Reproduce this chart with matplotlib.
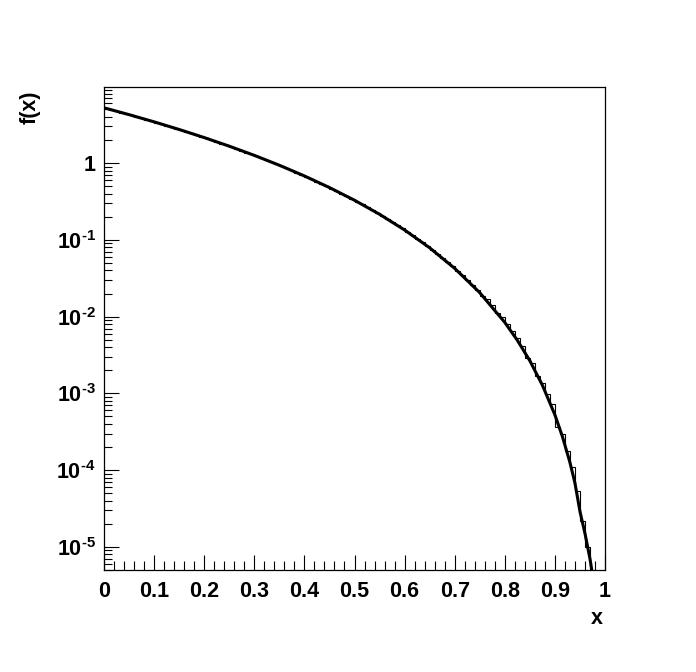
#!/usr/bin/env python

import matplotlib
matplotlib.use("Agg")
import matplotlib.pyplot as plt
import numpy as np
from matplotlib.ticker import FixedLocator, FuncFormatter, LogLocator, MultipleLocator

# histogram contents, 100 bins of width 0.01 on [0, 1]
hist_values = [
    5.146, 4.942, 4.744, 4.553, 4.367, 4.187, 4.012, 3.843, 3.680, 3.522,
    3.369, 3.221, 3.077, 2.939, 2.806, 2.677, 2.552, 2.432, 2.316, 2.205,
    2.097, 1.994, 1.894, 1.798, 1.706, 1.617, 1.532, 1.450, 1.372, 1.297,
    1.225, 1.156, 1.090, 1.027, 0.966, 0.909, 0.854, 0.801, 0.751, 0.703,
    0.658, 0.615, 0.574, 0.535, 0.498, 0.463, 0.430, 0.399, 0.369, 0.341,
    0.315, 0.290, 0.267, 0.245, 0.225, 0.206, 0.188, 0.171, 0.156, 0.141,
    0.128, 0.115, 0.104, 0.0932, 0.0834, 0.0744, 0.0661, 0.0586, 0.0517, 0.0454,
    0.0398, 0.0346, 0.0300, 0.0259, 0.0222, 0.0187, 0.0168, 0.0142, 0.0110, 0.0099,
    0.0080, 0.0065, 0.0052, 0.0042, 0.0029, 0.0025, 0.00168, 0.00138, 0.00099, 0.00072,
    0.00037, 0.000300, 0.000175, 0.000110, 5.3e-5, 2.2e-5, 1.0e-5, 0.0, 0.0, 0.0,
]
hist_lo = 0.0
hist_hi = 1.0

func_x = [0.0, 0.05, 0.1, 0.15, 0.2, 0.25, 0.3, 0.35, 0.4, 0.45, 0.5, 0.55, 0.6,
          0.65, 0.7, 0.75, 0.8, 0.825, 0.85, 0.875, 0.9, 0.915, 0.93, 0.94,
          0.95, 0.96, 0.97, 0.976]
func_y = [5.25, 4.276, 3.445, 2.741, 2.150, 1.661, 1.261, 0.937, 0.680, 0.480,
          0.328, 0.2153, 0.1344, 0.0788, 0.0425, 0.0205, 0.0084, 0.00492, 0.00266,
          0.00128, 0.000525, 0.000274, 0.000126, 6.8e-5, 2.9e-5, 1.5e-5, 7e-6, 4e-6]

y_min = 5.0e-6
y_max = 9.8

plt.rcParams['font.family'] = ['Liberation Sans', 'DejaVu Sans']
plt.rcParams['font.weight'] = 'bold'
plt.rcParams['mathtext.fontset'] = 'custom'
plt.rcParams['mathtext.rm'] = 'Liberation Sans:bold'
plt.rcParams['mathtext.bf'] = 'Liberation Sans:bold'
plt.rcParams['mathtext.it'] = 'Liberation Sans:bold'

FS = 15.5


def log_label(v, pos):
    e = int(round(np.log10(v)))
    if e == 0:
        return '1'
    if e < 0:
        return r'$\mathbf{10^{\text{-}%d}}$' % (-e)
    return r'$\mathbf{10^{%d}}$' % e


fig = plt.figure(figsize=(6.96, 6.72), dpi=100)
ax = fig.add_axes([104 / 696, 1 - 570 / 672, 501 / 696, 483 / 672])

edges = np.linspace(hist_lo, hist_hi, len(hist_values) + 1)
ax.stairs(hist_values, edges, baseline=None, color='black', linewidth=0.8)
ax.plot(func_x, func_y, color='black', linewidth=2.2, solid_joinstyle='round')

ax.set_yscale('log')
ax.set_xlim(0, 1)
ax.set_ylim(y_min, y_max)

ax.xaxis.set_major_locator(MultipleLocator(0.1))
ax.xaxis.set_minor_locator(MultipleLocator(0.02))
ax.xaxis.set_major_formatter(FuncFormatter(lambda v, pos: '%g' % round(v, 1)))
ax.yaxis.set_major_locator(FixedLocator([1e-5, 1e-4, 1e-3, 1e-2, 1e-1, 1.0]))
ax.yaxis.set_minor_locator(LogLocator(base=10, subs=np.arange(2, 10), numticks=20))
ax.yaxis.set_major_formatter(FuncFormatter(log_label))

ax.tick_params(which='both', direction='in', top=False, right=False, width=0.8)
ax.tick_params(axis='x', which='major', length=11, labelsize=FS, pad=8)
ax.tick_params(axis='x', which='minor', length=6.5)
ax.tick_params(axis='y', which='major', length=11, labelsize=FS, pad=6)
ax.tick_params(axis='y', which='minor', length=5.5)
for lab in ax.get_xticklabels() + ax.get_yticklabels():
    lab.set_fontweight('bold')

for sp in ax.spines.values():
    sp.set_linewidth(0.9)

fig.text(597 / 696, 1 - 618 / 672, 'x', fontsize=FS, fontweight='bold',
         ha='center', va='center')
fig.text(30 / 696, 1 - 90 / 672, 'f(x)', fontsize=FS, fontweight='bold',
         rotation=90, ha='center', va='top')

fig.savefig('out.png', dpi=100)
